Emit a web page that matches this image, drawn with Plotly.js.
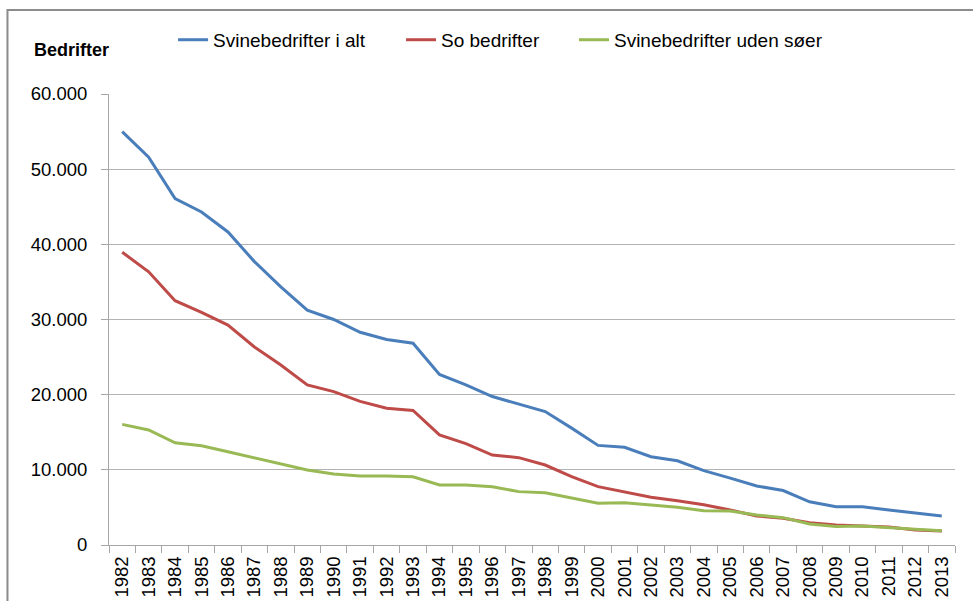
<!DOCTYPE html>
<html>
<head>
<meta charset="utf-8">
<script src="https://cdn.plot.ly/plotly-3.0.1.min.js"></script>
<style>
html,body{margin:0;padding:0;background:#fff;}
#chart{width:973px;height:601px;}
</style>
</head>
<body>
<div id="chart"></div>
<script>
const years = ["1982","1983","1984","1985","1986","1987","1988","1989","1990","1991","1992","1993","1994","1995","1996","1997","1998","1999","2000","2001","2002","2003","2004","2005","2006","2007","2008","2009","2010","2011","2012","2013"];

const svinebedrifterIAlt = [55000,51600,46100,44300,41650,37700,34350,31250,30000,28300,27350,26850,22700,21300,19750,18750,17750,15550,13250,13000,11750,11200,9900,8900,7850,7250,5750,5100,5100,4650,4200,3850];

const soBedrifter = [38950,36350,32500,30950,29250,26350,23950,21300,20400,19100,18200,17900,14650,13500,11970,11620,10640,9100,7760,7100,6350,5900,5350,4650,3870,3560,2970,2650,2530,2380,2000,1870];

const udenSoeer = [16050,15300,13600,13200,12400,11600,10700,9980,9450,9180,9180,9080,7980,7980,7760,7100,6960,6210,5550,5630,5280,5010,4550,4520,3990,3640,2800,2450,2520,2350,2080,1900];

const seriesNames = ["Svinebedrifter i alt","So bedrifter","Svinebedrifter uden søer"];
const seriesColors = ["#4A7EBB","#BE4B48","#98B954"];
const seriesValues = [svinebedrifterIAlt, soBedrifter, udenSoeer];

const yTickVals = [0,10000,20000,30000,40000,50000,60000];

const legendIds = ["legend","legend2","legend3"];

const traces = seriesValues.map((vals, i) => ({
  type: "scatter",
  mode: "lines",
  x: years,
  y: vals,
  name: seriesNames[i],
  legend: legendIds[i],
  line: {color: seriesColors[i], width: 3},
  hoverinfo: "skip"
}));

const font = "Arial, 'Liberation Sans', sans-serif";

function legendAt(x) {
  return {
    orientation: "h",
    x: x, xanchor: "left",
    y: 1.12, yanchor: "middle",
    font: {family: font, size: 19, color: "#000"},
    itemwidth: 30,
    bgcolor: "rgba(0,0,0,0)"
  };
}

const layout = {
  width: 973,
  height: 601,
  margin: {l: 109, r: 18, t: 94, b: 56},
  paper_bgcolor: "#ffffff",
  plot_bgcolor: "#ffffff",
  separators: ",.",
  font: {family: font, size: 19, color: "#000"},
  showlegend: true,
  legend: legendAt(0.0757),
  legend2: legendAt(0.3452),
  legend3: legendAt(0.5496),
  xaxis: {
    type: "category",
    range: [-0.5, years.length - 0.5],
    showgrid: false,
    showline: true,
    linecolor: "#A6A6A6",
    linewidth: 1,
    ticks: "outside",
    tickson: "boundaries",
    ticklen: 7,
    tickcolor: "#A6A6A6",
    tickangle: -90,
    ticklabelstandoff: 3,
    tickfont: {family: font, size: 18.5, color: "#000"},
    zeroline: false,
    fixedrange: true
  },
  yaxis: {
    range: [0, 60000],
    tickvals: yTickVals,
    tickformat: ",d",
    showgrid: true,
    gridcolor: "#B3B3B3",
    gridwidth: 1,
    showline: true,
    linecolor: "#A6A6A6",
    linewidth: 1,
    ticks: "outside",
    ticklen: 7,
    tickcolor: "#A6A6A6",
    ticklabelstandoff: 10,
    tickfont: {family: font, size: 18.5, color: "#000"},
    zeroline: false,
    fixedrange: true
  },
  annotations: [{
    text: "<b>Bedrifter</b>",
    xref: "paper", yref: "paper",
    x: -0.091, xanchor: "left",
    y: 1.098, yanchor: "middle",
    showarrow: false,
    font: {family: font, size: 18, color: "#000"}
  }],
  shapes: [{
    type: "rect",
    xref: "paper", yref: "paper",
    x0: -0.12, x1: 1.2,
    y0: -0.3, y1: 1.186,
    line: {color: "#8C8C8C", width: 2},
    fillcolor: "rgba(0,0,0,0)",
    layer: "below"
  }],
  hovermode: false
};

Plotly.newPlot("chart", traces, layout, {displayModeBar: false, staticPlot: true});
</script>
</body>
</html>
